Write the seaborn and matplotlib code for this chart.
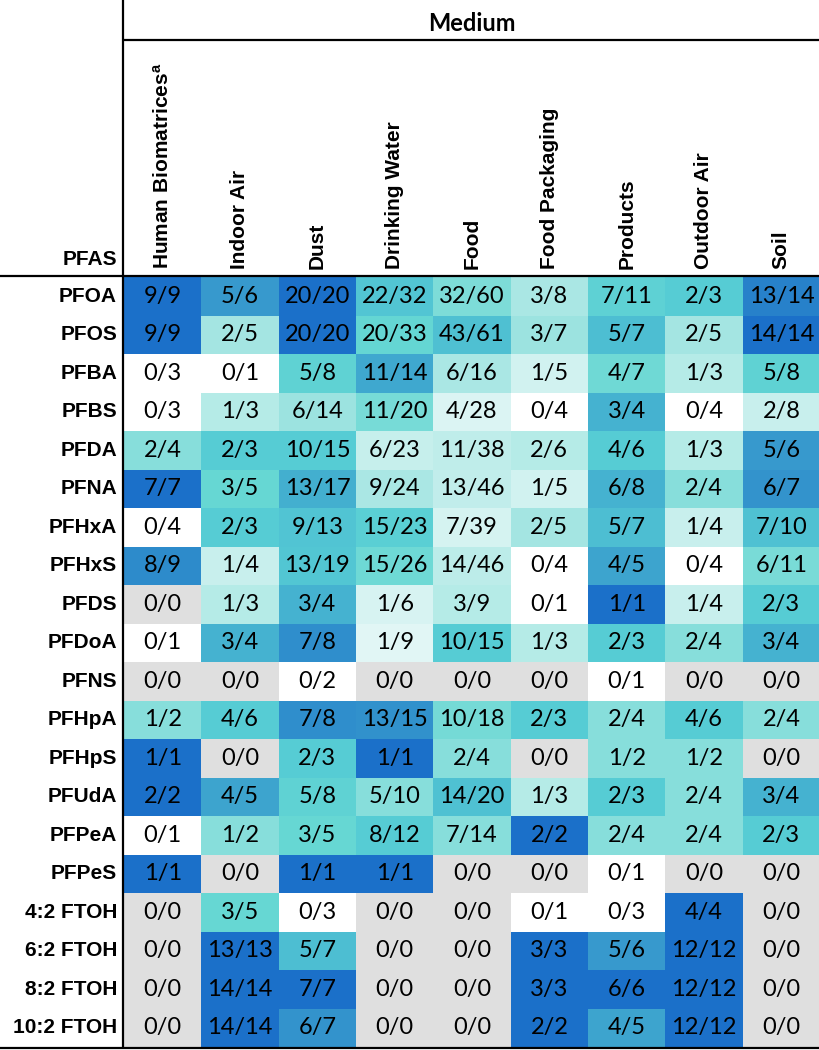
import numpy as np
import pandas as pd
import matplotlib
matplotlib.use("Agg")
import matplotlib.pyplot as plt
from matplotlib.colors import LinearSegmentedColormap
from matplotlib.lines import Line2D
from matplotlib import font_manager
import seaborn as sns

# ---------------- data ----------------
pfas = ["PFOA", "PFOS", "PFBA", "PFBS", "PFDA", "PFNA", "PFHxA", "PFHxS", "PFDS",
        "PFDoA", "PFNS", "PFHpA", "PFHpS", "PFUdA", "PFPeA", "PFPeS",
        "4:2 FTOH", "6:2 FTOH", "8:2 FTOH", "10:2 FTOH"]

media = ["Human Biomatrices$^{\\mathregular{a}}$", "Indoor Air", "Dust", "Drinking Water",
         "Food", "Food Packaging", "Products", "Outdoor Air", "Soil"]

human_biomatrices = ["9/9", "9/9", "0/3", "0/3", "2/4", "7/7", "0/4", "8/9", "0/0", "0/1",
                     "0/0", "1/2", "1/1", "2/2", "0/1", "1/1", "0/0", "0/0", "0/0", "0/0"]
indoor_air = ["5/6", "2/5", "0/1", "1/3", "2/3", "3/5", "2/3", "1/4", "1/3", "3/4",
              "0/0", "4/6", "0/0", "4/5", "1/2", "0/0", "3/5", "13/13", "14/14", "14/14"]
dust = ["20/20", "20/20", "5/8", "6/14", "10/15", "13/17", "9/13", "13/19", "3/4", "7/8",
        "0/2", "7/8", "2/3", "5/8", "3/5", "1/1", "0/3", "5/7", "7/7", "6/7"]
drinking_water = ["22/32", "20/33", "11/14", "11/20", "6/23", "9/24", "15/23", "15/26", "1/6", "1/9",
                  "0/0", "13/15", "1/1", "5/10", "8/12", "1/1", "0/0", "0/0", "0/0", "0/0"]
food = ["32/60", "43/61", "6/16", "4/28", "11/38", "13/46", "7/39", "14/46", "3/9", "10/15",
        "0/0", "10/18", "2/4", "14/20", "7/14", "0/0", "0/0", "0/0", "0/0", "0/0"]
food_packaging = ["3/8", "3/7", "1/5", "0/4", "2/6", "1/5", "2/5", "0/4", "0/1", "1/3",
                  "0/0", "2/3", "0/0", "1/3", "2/2", "0/0", "0/1", "3/3", "3/3", "2/2"]
products = ["7/11", "5/7", "4/7", "3/4", "4/6", "6/8", "5/7", "4/5", "1/1", "2/3",
            "0/1", "2/4", "1/2", "2/3", "2/4", "0/1", "0/3", "5/6", "6/6", "4/5"]
outdoor_air = ["2/3", "2/5", "1/3", "0/4", "1/3", "2/4", "1/4", "0/4", "1/4", "2/4",
               "0/0", "4/6", "1/2", "2/4", "2/4", "0/0", "4/4", "12/12", "12/12", "12/12"]
soil = ["13/14", "14/14", "5/8", "2/8", "5/6", "6/7", "7/10", "6/11", "2/3", "3/4",
        "0/0", "2/4", "0/0", "3/4", "2/3", "0/0", "0/0", "0/0", "0/0", "0/0"]

columns = [human_biomatrices, indoor_air, dust, drinking_water, food,
           food_packaging, products, outdoor_air, soil]

labels = pd.DataFrame({m: c for m, c in zip(media, columns)}, index=pfas)


def to_frac(s):
    n, d = s.split("/")
    n, d = int(n), int(d)
    return -1.0 if d == 0 else n / d


frac = labels.apply(lambda col: col.map(to_frac))

# ---------------- style ----------------
available = {f.name for f in font_manager.fontManager.ttflist}
if "Liberation Sans Narrow" in available:
    HEAD_FONT, HEAD_SIZE = "Liberation Sans Narrow", 18
else:
    HEAD_FONT, HEAD_SIZE = "Liberation Sans", 15

plt.rcParams["mathtext.fontset"] = "custom"
plt.rcParams["mathtext.rm"] = HEAD_FONT
plt.rcParams["mathtext.it"] = HEAD_FONT + ":italic"
plt.rcParams["mathtext.bf"] = HEAD_FONT + ":bold"

nodes = [(0.0, "#ffffff"), (0.11, "#e1f6f5"), (0.25, "#c8efed"), (0.333, "#b5ebe7"),
         (0.4, "#a4e5e2"), (0.5, "#88dedb"), (0.6, "#66d7d3"), (0.667, "#56ccd4"),
         (0.75, "#46b3d0"), (0.857, "#3393cc"), (1.0, "#1b70c9")]
cmap = LinearSegmentedColormap.from_list("pfas", nodes)
cmap.set_under("#dfdfdf")

W, H = 820, 1050
fig = plt.figure(figsize=(W / 100, H / 100), dpi=100)
ax = fig.add_axes([124 / W, 1 - 1047 / H, 696 / W, (1047 - 277) / H])

sns.heatmap(frac, ax=ax, cmap=cmap, vmin=0, vmax=1, annot=labels.values, fmt="",
            cbar=False, linewidths=0,
            annot_kws=dict(fontsize=17, family="Lato", color="black"))

ax.set_xlabel("")
ax.set_ylabel("")
ax.xaxis.tick_top()
ax.set_xticks(np.arange(len(media)) + 0.5)
ax.set_xticklabels(media, rotation=90, ha="center", va="bottom", fontsize=HEAD_SIZE,
                   fontweight="bold", family=HEAD_FONT)
ax.set_yticks(np.arange(len(pfas)) + 0.5)
ax.set_yticklabels(pfas, rotation=0, ha="right", va="center", fontsize=HEAD_SIZE,
                   fontweight="bold", family=HEAD_FONT)
ax.tick_params(axis="x", length=0, pad=6, top=True, bottom=False,
               labeltop=True, labelbottom=False)
ax.tick_params(axis="y", length=0, pad=5)
for s in ax.spines.values():
    s.set_visible(False)

# table rules
def line(x0, y0, x1, y1, lw=1.6):
    fig.add_artist(Line2D([x0 / W, x1 / W], [1 - y0 / H, 1 - y1 / H],
                          transform=fig.transFigure, color="black", lw=lw,
                          solid_capstyle="butt"))

line(123.5, 0, 123.5, 1048)
line(123.5, 40, W, 40)
line(0, 276, W, 276)
line(0, 1048, W, 1048)

fig.text(471.5 / W, 1 - 31 / H, "Medium", ha="center", va="baseline",
         fontsize=17, fontweight="bold", family="Lato")
fig.text(117 / W, 1 - 265 / H, "PFAS", ha="right", va="baseline",
         fontsize=HEAD_SIZE, fontweight="bold", family=HEAD_FONT)

fig.savefig("out.png", dpi=100)
